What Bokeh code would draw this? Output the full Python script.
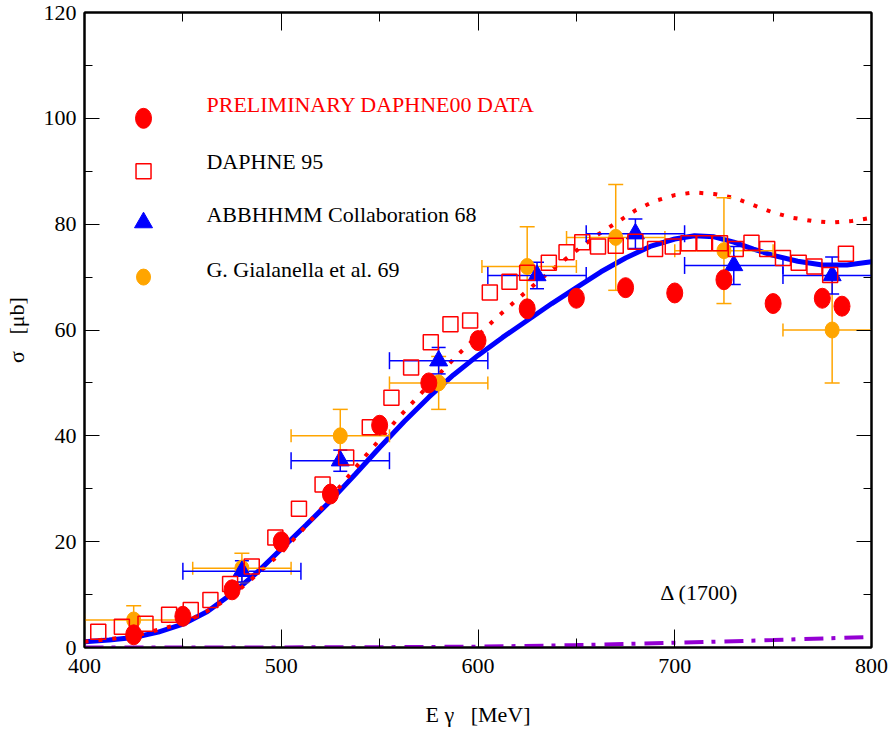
import numpy as np
from bokeh.plotting import figure
from bokeh.models import LinearAxis, FixedTicker, Range1d
from bokeh.core.properties import value
from bokeh.embed import file_html
from bokeh.resources import INLINE

# ---------------- data ----------------
# PRELIMINARY DAPHNE00 DATA
d00_x = [425, 450, 475, 500, 525, 550, 575, 600, 625, 650, 675, 700, 725, 750, 775, 785]
d00_y = [2.4, 5.9, 10.9, 20.0, 29.0, 42.0, 50.0, 58.0, 64.0, 66.0, 68.0, 67.0, 69.5, 65.0, 66.0, 64.5]

# DAPHNE 95
d95_x = [407, 419, 431, 443, 454, 464, 474, 485, 497, 509, 521, 533, 545, 556, 566, 576, 586, 596,
         606, 616, 625, 636, 645, 653, 661, 670, 680, 690, 699, 707, 715, 723, 731, 739, 747, 755,
         763, 771, 779, 787]
d95_y = [3.0, 3.9, 4.5, 6.2, 7.1, 9.0, 12.0, 15.3, 20.8, 26.2, 30.8, 35.9, 41.6, 47.2, 52.9, 57.7,
         61.1, 61.8, 67.1, 69.1, 70.8, 72.7, 74.7, 76.6, 75.8, 75.9, 76.7, 75.3, 75.8, 76.4, 76.4,
         76.4, 75.3, 76.5, 75.3, 73.6, 72.7, 72.0, 70.4, 74.4]

# ABBHHMM Collaboration 68
abb_x = [480, 530, 580, 630, 680, 730, 780]
abb_y = [14.4, 35.3, 54.2, 70.3, 78.2, 72.2, 70.3]
abb_xlo = [450, 505, 555, 605, 655, 705, 755]
abb_xhi = [510, 555, 605, 655, 705, 755, 805]
abb_ylo = [12.4, 33.3, 51.7, 67.8, 75.4, 68.6, 66.8]
abb_yhi = [16.4, 37.3, 56.7, 72.8, 81.0, 75.8, 73.8]

# G. Gialanella et al. 69
gia_x = [425, 480, 530, 580, 625, 670, 725, 780]
gia_y = [5.2, 15.0, 40.0, 50.0, 72.0, 77.5, 75.0, 60.0]
gia_xlo = [400, 455, 505, 555, 602, 645, 700, 755]
gia_xhi = [450, 505, 555, 605, 650, 695, 750, 805]
gia_ylo = [2.5, 12.3, 35.0, 45.0, 64.5, 67.5, 65.0, 50.0]
gia_yhi = [7.9, 17.8, 45.0, 55.0, 79.5, 87.5, 85.0, 70.0]

# theory curves
full_x = [400, 412.5, 425, 437.5, 450, 462.5, 475, 487.5, 500, 512.5, 525, 537.5, 550, 562.5, 575,
          587.5, 600, 612.5, 625, 637.5, 650, 662.5, 675, 687.5, 700, 710, 720, 730, 740, 750,
          762.5, 775, 787.5, 800]
full_y = [1.1, 1.4, 1.9, 2.9, 4.4, 6.8, 10.2, 14.1, 18.6, 23.1, 27.7, 32.7, 37.8, 42.7, 47.3,
          51.5, 55.2, 58.6, 61.8, 65.0, 68.0, 71.0, 73.6, 75.8, 77.2, 77.8, 77.6, 76.6, 75.3, 74.1,
          73.0, 72.3, 72.3, 72.9]

dot_x = [400, 425, 450, 462, 473, 483, 493, 500, 510, 520, 530, 540, 550, 560, 570, 580, 590, 600, 610,
         620, 630, 640, 650, 660, 670, 680, 690, 700, 710, 720, 730, 740, 750, 760, 770, 780, 790, 800]
dot_y = [1.1, 2.1, 4.6, 6.8, 9.2, 12.3, 15.6, 17.9, 21.9, 26.1, 30.5, 35.0, 39.3, 43.6, 47.6, 51.6,
         55.4, 59.0, 62.5, 65.8, 69.0, 72.1, 75.0, 77.8, 80.2, 82.6, 84.4, 85.5, 86.0, 85.7, 85.0,
         83.6, 82.2, 81.2, 80.6, 80.3, 80.6, 81.2]

d1700_x = [400, 450, 500, 550, 600, 650, 700, 750, 800]
d1700_y = [0.0, 0.0, 0.02, 0.06, 0.15, 0.45, 0.9, 1.4, 2.0]

x_ticks = [400, 500, 600, 700, 800]
x_minor = [450, 550, 650, 750]
y_ticks = [0, 20, 40, 60, 80, 100, 120]
y_minor = [10, 30, 50, 70, 90, 110]

legend_labels = ["PRELIMINARY DAPHNE00 DATA", "DAPHNE 95", "ABBHHMM Collaboration 68", "G. Gialanella et al. 69"]
x_title = "E γ\u00a0\u00a0\u00a0[MeV]"
y_title = "σ\u00a0\u00a0\u00a0[μb]"

# ---------------- styles ----------------
FONT = "Liberation Serif"
RED = "#ff0000"
BLUE = "#0000ff"
ORANGE = "#ffa500"
PURPLE = "#9400d3"

p = figure(width=891, height=734, x_range=Range1d(400, 800), y_range=Range1d(0, 120),
           output_backend="svg", toolbar_location=None, x_axis_location=None, y_axis_location=None)
p.min_border_left = 82
p.min_border_right = 20
p.min_border_top = 12
p.min_border_bottom = 87
p.xgrid.visible = False
p.ygrid.visible = False
p.outline_line_color = "black"
p.outline_line_width = 2
p.background_fill_color = "white"
p.border_fill_color = "white"


def make_axis(kind, labels):
    if kind == "x":
        ticks = x_ticks
        ax = LinearAxis(ticker=FixedTicker(ticks=x_ticks, minor_ticks=x_minor))
        ax.major_tick_in = 18
        ax.minor_tick_in = 9
    else:
        ticks = y_ticks
        ax = LinearAxis(ticker=FixedTicker(ticks=y_ticks, minor_ticks=y_minor))
        ax.major_tick_in = 15
        ax.minor_tick_in = 8
    ax.major_tick_out = 0
    ax.minor_tick_out = 0
    ax.axis_line_color = "black"
    ax.axis_line_width = 2
    ax.major_tick_line_color = "black"
    ax.major_tick_line_width = 1
    ax.minor_tick_line_color = "black"
    ax.minor_tick_line_width = 1
    if labels:
        ax.major_label_text_font = FONT
        ax.major_label_text_font_size = "22px"
        ax.major_label_text_color = "black"
        ax.axis_label_text_font = FONT
        ax.axis_label_text_font_size = "22px"
        ax.axis_label_text_font_style = "normal"
        ax.axis_label_text_color = "black"
    else:
        ax.major_label_overrides = {t: "" for t in ticks}
        ax.major_label_standoff = 0
    return ax


xb = make_axis("x", True)
xb.axis_label = x_title
xb.major_label_standoff = 11
xb.axis_label_standoff = 26
p.add_layout(xb, "below")

yl = make_axis("y", True)
yl.axis_label = y_title
yl.major_label_standoff = 8
yl.axis_label_standoff = 12
p.add_layout(yl, "left")

p.add_layout(make_axis("x", False), "above")
p.add_layout(make_axis("y", False), "right")

# curves
p.line(d1700_x, d1700_y, line_color=PURPLE, line_width=4, line_dash="19 8 4 9")
p.line(full_x, full_y, line_color=BLUE, line_width=5)
p.line(dot_x, dot_y, line_color=RED, line_width=4, line_dash="4 10")

# error bars: Gialanella
p.segment(gia_xlo, gia_y, gia_xhi, gia_y, line_color=ORANGE, line_width=1.5)
p.segment(gia_x, gia_ylo, gia_x, gia_yhi, line_color=ORANGE, line_width=1.5)
p.scatter(gia_xlo + gia_xhi, gia_y + gia_y, marker="dash", size=13, angle=np.pi / 2,
          line_color=ORANGE, line_width=1.5)
p.scatter(gia_x + gia_x, gia_ylo + gia_yhi, marker="dash", size=15,
          line_color=ORANGE, line_width=1.5)

# error bars: ABBHHMM
p.segment(abb_xlo, abb_y, abb_xhi, abb_y, line_color=BLUE, line_width=1.5)
p.segment(abb_x, abb_ylo, abb_x, abb_yhi, line_color=BLUE, line_width=1.5)
p.scatter(abb_xlo + abb_xhi, abb_y + abb_y, marker="dash", size=17, angle=np.pi / 2,
          line_color=BLUE, line_width=1.5)
p.scatter(abb_x + abb_x, abb_ylo + abb_yhi, marker="dash", size=14,
          line_color=BLUE, line_width=1.5)

# points
p.ellipse(gia_x, gia_y, width=14, height=16, width_units="screen", height_units="screen",
          fill_color=ORANGE, line_color=ORANGE)
p.scatter(abb_x, abb_y, marker="triangle", size=18, fill_color=BLUE, line_color=BLUE)
p.scatter(d95_x, d95_y, marker="square", size=15, fill_color=None, line_color=RED, line_width=1.5)
p.ellipse(d00_x, d00_y, width=16, height=20, width_units="screen", height_units="screen",
          fill_color=RED, line_color=RED)

# legend (manual, inside plot)
lx = 430
ly = [100, 90, 80.3, 70]
tx = 462
p.ellipse([lx], [ly[0]], width=16, height=20, width_units="screen", height_units="screen",
          fill_color=RED, line_color=RED)
p.scatter([lx], [ly[1]], marker="square", size=15, fill_color=None, line_color=RED, line_width=1.5)
p.scatter([lx], [ly[2]], marker="triangle", size=18, fill_color=BLUE, line_color=BLUE)
p.ellipse([lx], [ly[3]], width=14, height=16, width_units="screen", height_units="screen",
          fill_color=ORANGE, line_color=ORANGE)
p.text([tx] * 4, [102.6, 91.9, 81.9, 71.5], text=legend_labels,
       text_color=[RED, "black", "black", "black"], text_font=value(FONT),
       text_font_size="22px", text_baseline="middle", text_align="left")

p.text([692.6], [10.3], text=["Δ (1700)"], text_font=value(FONT), text_font_size="22px",
       text_baseline="middle", text_align="left", text_color="black")

open("out.html", "w").write(file_html(p, INLINE))
